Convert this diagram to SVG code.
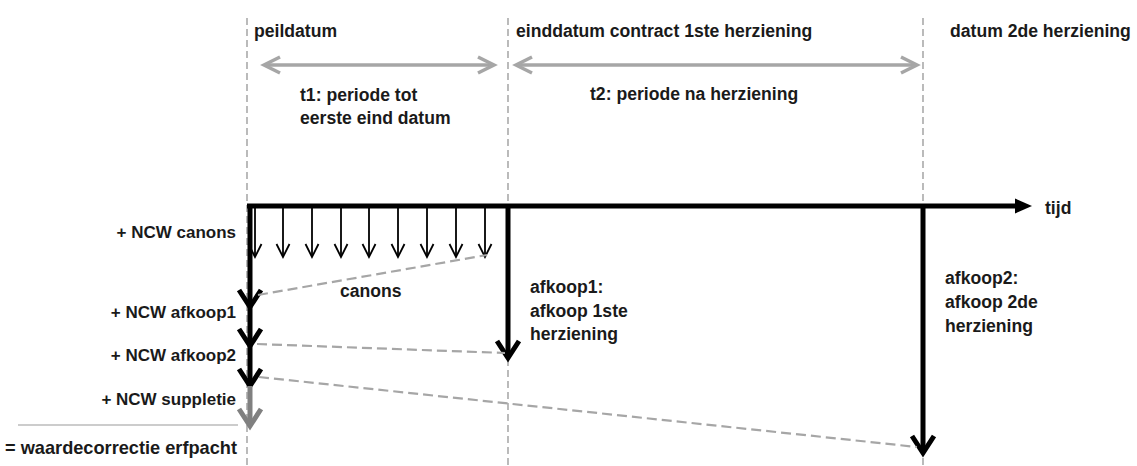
<svg xmlns="http://www.w3.org/2000/svg" width="1137" height="466" viewBox="0 0 1137 466">
<style>
text{font-family:"Liberation Sans",Arial,sans-serif;font-weight:bold;font-size:17.6px;fill:#1a1a1a}
.r{text-anchor:end;font-size:17px}
.vdash{stroke:#aaaaaa;stroke-width:1.6;stroke-dasharray:7 4;fill:none}
.gdash{stroke:#a6a6a6;stroke-width:2.2;stroke-dasharray:10 5;fill:none}
.thick{stroke:#000;stroke-width:5;fill:none}
.thin{stroke:#000;stroke-width:1.8;fill:none}
.period{stroke:#a6a6a6;stroke-width:3.5;fill:none}
</style>
<defs>
<marker id="chevG" markerUnits="userSpaceOnUse" viewBox="-20 -10 22 20" refX="0" refY="0" markerWidth="22" markerHeight="20" orient="auto-start-reverse" overflow="visible">
<path d="M-16,-8 L0,0 L-16,8" stroke="#a6a6a6" stroke-width="3.5" fill="none"/>
</marker>
<marker id="tri" markerUnits="userSpaceOnUse" viewBox="0 -8 18 16" refX="1" refY="0" markerWidth="18" markerHeight="16" orient="auto" overflow="visible">
<path d="M0,-7.5 L17,0 L0,7.5 Z" fill="#000"/>
</marker>
</defs>

<g id="guides">
<line class="vdash" x1="247" y1="18" x2="247" y2="466"/>
<line class="vdash" x1="508" y1="18" x2="508" y2="466"/>
<line class="vdash" x1="923" y1="18" x2="923" y2="466"/>
</g>

<g id="labels-top">
<text x="254" y="37">peildatum</text>
<text x="516" y="37">einddatum contract 1ste herziening</text>
<text x="950" y="37">datum 2de herziening</text>
</g>

<g id="periods">
<line class="period" x1="264" y1="65" x2="494" y2="65" marker-start="url(#chevG)" marker-end="url(#chevG)"/>
<line class="period" x1="516" y1="65" x2="917" y2="65" marker-start="url(#chevG)" marker-end="url(#chevG)"/>
<text x="300" y="101">t1: periode tot</text>
<text x="300" y="124">eerste eind datum</text>
<text x="590" y="100">t2: periode na herziening</text>
</g>

<g id="connectors">
<!-- time axis -->
<line class="thick" x1="247" y1="206" x2="1016" y2="206" marker-end="url(#tri)"/>
<!-- canon arrows -->
<g class="thin">
<line x1="255" y1="206" x2="255" y2="257"/>
<line x1="283" y1="206" x2="283" y2="257"/>
<line x1="312" y1="206" x2="312" y2="257"/>
<line x1="341" y1="206" x2="341" y2="257"/>
<line x1="369" y1="206" x2="369" y2="257"/>
<line x1="398" y1="206" x2="398" y2="257"/>
<line x1="427" y1="206" x2="427" y2="257"/>
<line x1="456" y1="206" x2="456" y2="257"/>
<line x1="485" y1="206" x2="485" y2="257"/>
<path d="M248.5,244 L255,257 L261.5,244 M276.5,244 L283,257 L289.5,244 M305.5,244 L312,257 L318.5,244 M334.5,244 L341,257 L347.5,244 M362.5,244 L369,257 L375.5,244 M391.5,244 L398,257 L404.5,244 M420.5,244 L427,257 L433.5,244 M449.5,244 L456,257 L462.5,244 M478.5,244 L485,257 L491.5,244"/>
</g>
<!-- left chain -->
<line class="thick" x1="250" y1="204" x2="250" y2="386"/>
<path class="thick" d="M239,290 L250,307 L261,290 M239,329 L250,346 L261,329 M239,369 L250,386 L261,369"/>
<line x1="250" y1="386" x2="250" y2="426" stroke="#808080" stroke-width="5"/>
<path d="M239,409 L250,426 L261,409" stroke="#808080" stroke-width="5" fill="none"/>
<!-- afkoop1 -->
<line class="thick" x1="508" y1="206" x2="508" y2="358"/>
<path class="thick" d="M497,341 L508,358 L519,341"/>
<!-- afkoop2 -->
<line class="thick" x1="923" y1="206" x2="923" y2="453"/>
<path class="thick" d="M912,436 L923,453 L934,436"/>
<!-- discount dashed lines -->
<line class="gdash" x1="258" y1="295" x2="487" y2="255"/>
<line class="gdash" x1="257" y1="344" x2="505" y2="353"/>
<line class="gdash" x1="259" y1="377" x2="917" y2="447"/>
<!-- sum line -->
<line x1="18" y1="425" x2="238" y2="425" stroke="#999" stroke-width="1.2"/>
</g>

<g id="labels">
<text x="1045" y="214">tijd</text>
<text x="340" y="297">canons</text>
<text x="530" y="293">afkoop1:</text>
<text x="530" y="317">afkoop 1ste</text>
<text x="530" y="340">herziening</text>
<text x="945" y="284">afkoop2:</text>
<text x="945" y="308">afkoop 2de</text>
<text x="945" y="332">herziening</text>
<text class="r" x="236" y="238">+ NCW canons</text>
<text class="r" x="236" y="318">+ NCW afkoop1</text>
<text class="r" x="236" y="361">+ NCW afkoop2</text>
<text class="r" x="236" y="405">+ NCW suppletie</text>
<text x="5" y="454" style="font-size:18.2px">= waardecorrectie erfpacht</text>
</g>
</svg>
